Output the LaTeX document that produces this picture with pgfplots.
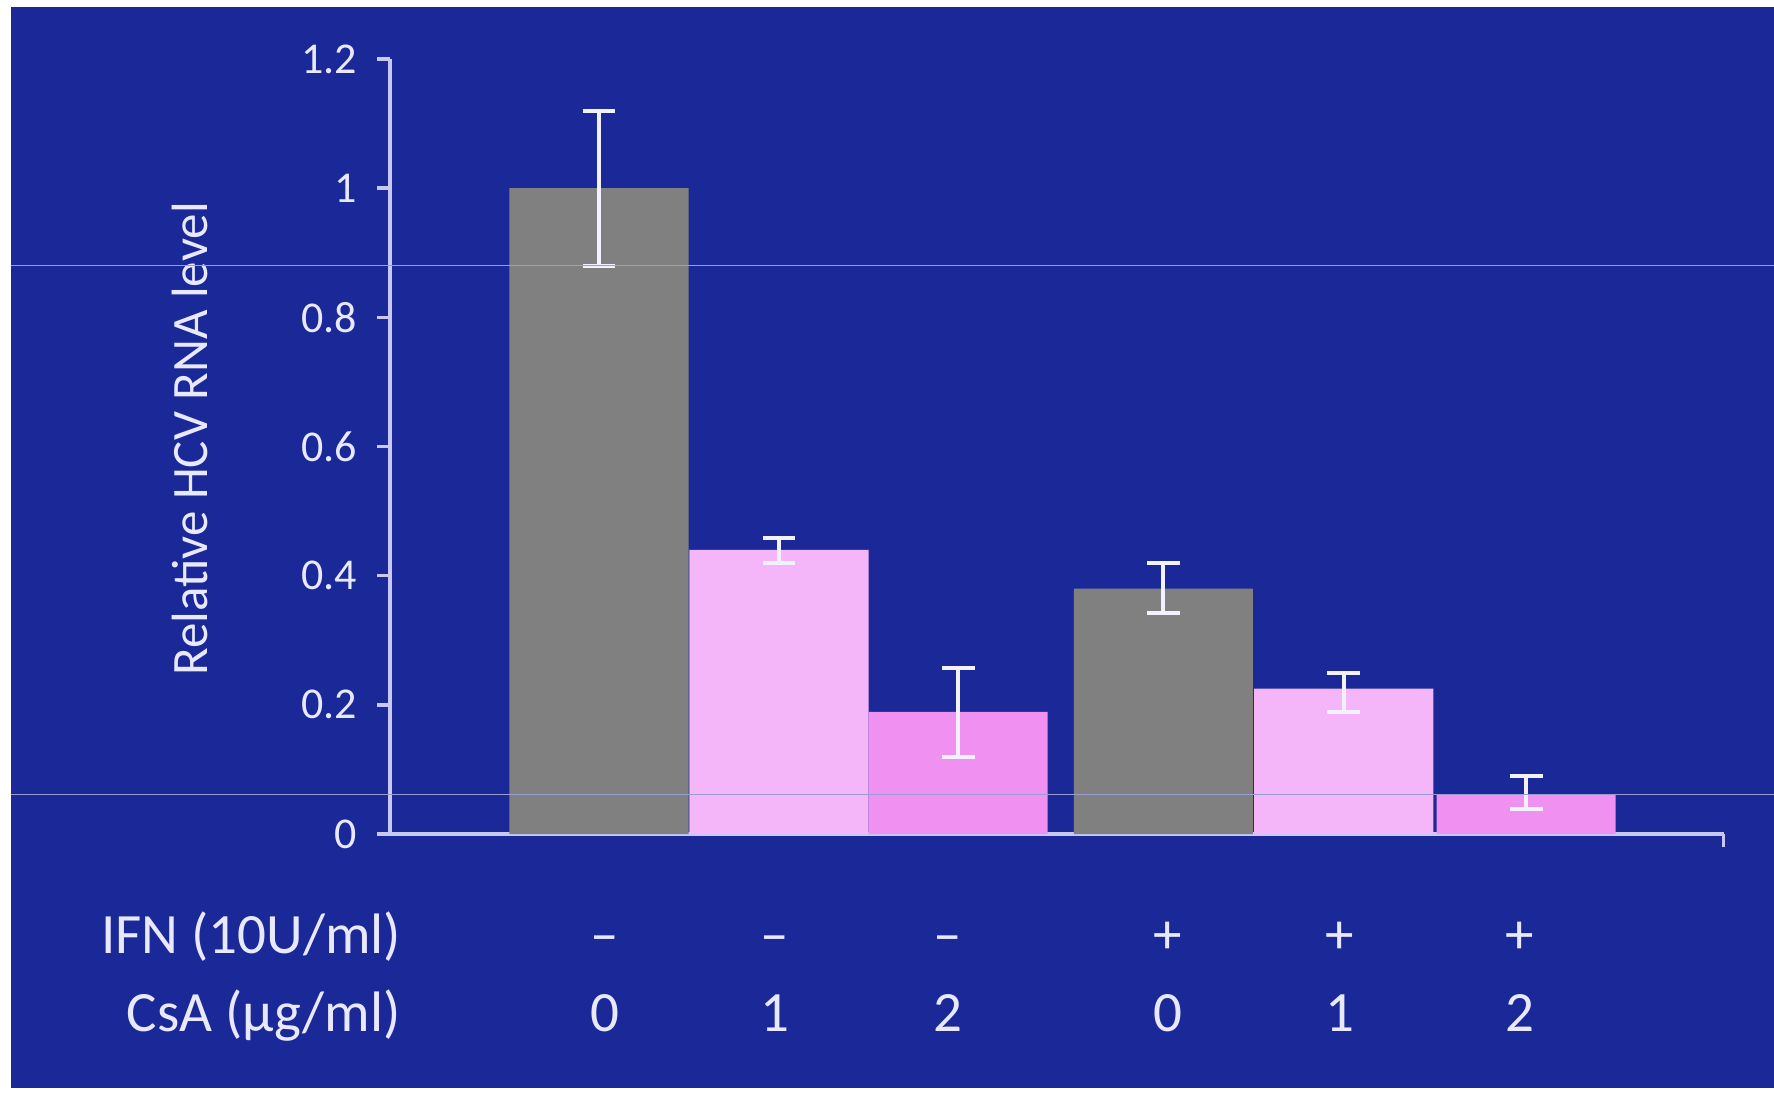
\documentclass[border=0pt]{standalone}
\usepackage{pgfplots}
\pgfplotsset{compat=1.18}
\usepackage{fontspec}
\setmainfont{Carlito}
\definecolor{bg}{RGB}{26,40,152}
\definecolor{barGray}{RGB}{128,128,128}
\definecolor{lpink}{RGB}{244,182,248}
\definecolor{mpink}{RGB}{240,144,240}
\definecolor{txt}{RGB}{232,232,255}
\definecolor{axcol}{RGB}{200,200,245}
\definecolor{errcol}{RGB}{242,242,255}
\begin{document}
\begin{tikzpicture}[x=1pt,y=1pt]
\useasboundingbox (0,0) rectangle (443.5,273);
\fill[white] (0,0) rectangle (443.5,273);
\fill[bg] (2.75,1) rectangle (443.5,271.25);
\begin{axis}[
  at={(97.5pt,64.5pt)}, anchor=south west,
  scale only axis, width=333.4pt, height=193.75pt,
  xmin=-1.161, xmax=6.247, ymin=0, ymax=1.2,
  axis lines*=left,
  axis line style={axcol, line width=0.9pt},
  ytick={0,0.2,0.4,0.6,0.8,1,1.2},
  yticklabels={0,0.2,0.4,0.6,0.8,1,1.2},
  xtick=\empty,
  extra x ticks={6.247}, extra x tick labels={},
  tick align=outside, major tick length=3.3pt,
  tick style={axcol, line width=0.9pt},
  yticklabel style={txt, font=\fontsize{11}{12}\selectfont, xshift=-1.4pt},
  clip=false,
  error bars/error bar style={line width=1pt, errcol},
  error bars/error mark options={rotate=90, mark size=4.1pt, line width=1pt, errcol},
]
\addplot[ybar, bar width=0.995, bar shift=0, fill=barGray, draw=none,
  error bars/.cd, y dir=both, y explicit]
  coordinates {(0,1.0) +- (0,0.12) (3.135,0.38) += (0,0.039) -= (0,0.038)};
\addplot[ybar, bar width=0.995, bar shift=0, fill=lpink, draw=none,
  error bars/.cd, y dir=both, y explicit]
  coordinates {(1,0.44) += (0,0.019) -= (0,0.021) (4.137,0.225) += (0,0.024) -= (0,0.036)};
\addplot[ybar, bar width=0.995, bar shift=0, fill=mpink, draw=none,
  error bars/.cd, y dir=both, y explicit]
  coordinates {(1.995,0.189) += (0,0.068) -= (0,0.070) (5.15,0.061) += (0,0.029) -= (0,0.023)};

\node[rotate=90, anchor=base, txt, font=\fontsize{12.75}{14}\selectfont]
  at (rel axis cs:-0.137,0.5097) {Relative HCV RNA level};

\begin{scope}[every node/.style={txt, font=\fontsize{14.25}{16}\selectfont}]
\node[anchor=base east, inner sep=0pt] at (axis cs:-1.096,-0.1855) {IFN (10U/ml)};
\node[anchor=base east, inner sep=0pt] at (axis cs:-1.096,-0.3065) {CsA (µg/ml)};
\node[anchor=base] at (axis cs:0.033,-0.1855) {–};
\node[anchor=base] at (axis cs:0.978,-0.1855) {–};
\node[anchor=base] at (axis cs:1.939,-0.1855) {–};
\node[anchor=base] at (axis cs:3.159,-0.1855) {+};
\node[anchor=base] at (axis cs:4.115,-0.1855) {+};
\node[anchor=base] at (axis cs:5.114,-0.1855) {+};
\node[anchor=base] at (axis cs:0.033,-0.3065) {0};
\node[anchor=base] at (axis cs:0.978,-0.3065) {1};
\node[anchor=base] at (axis cs:1.939,-0.3065) {2};
\node[anchor=base] at (axis cs:3.159,-0.3065) {0};
\node[anchor=base] at (axis cs:4.115,-0.3065) {1};
\node[anchor=base] at (axis cs:5.114,-0.3065) {2};
\end{scope}
\end{axis}
\draw[line width=0.25pt, white!55!bg] (2.75,206.6) -- (443.5,206.6);
\draw[line width=0.25pt, white!55!bg] (2.75,74.5) -- (443.5,74.5);
\end{tikzpicture}
\end{document}
